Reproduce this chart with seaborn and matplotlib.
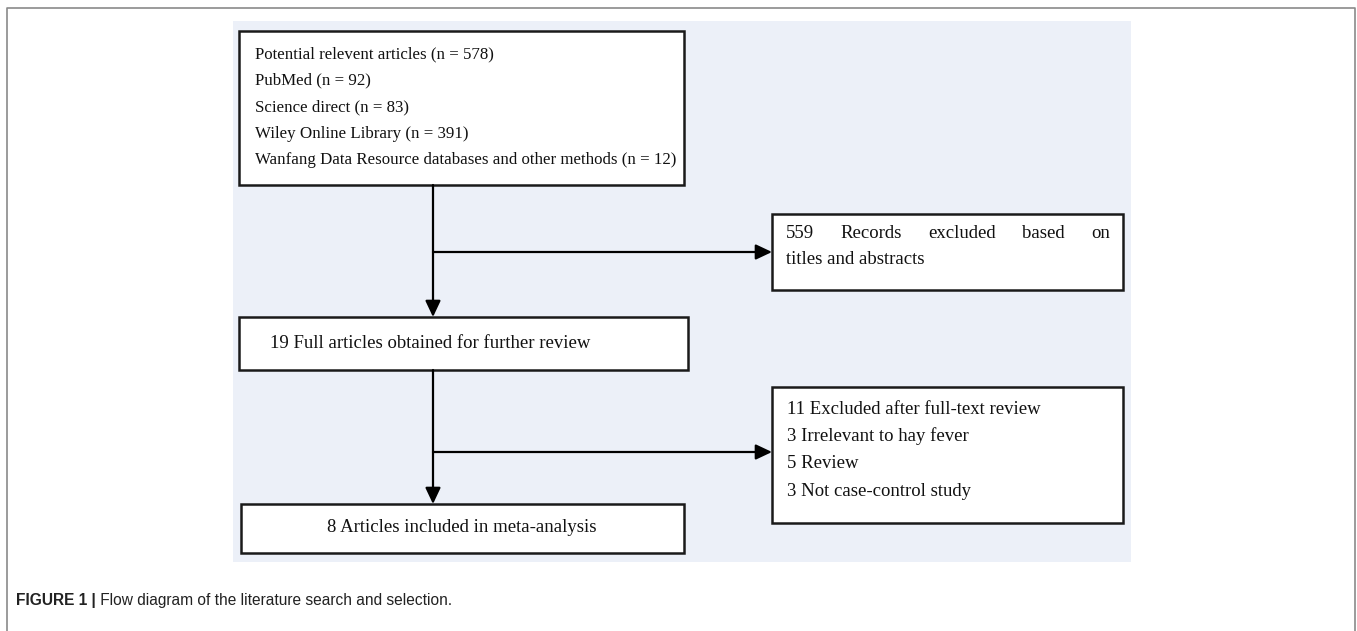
import matplotlib
matplotlib.use("Agg")
import matplotlib.pyplot as plt
import seaborn as sns
from matplotlib import font_manager
from matplotlib.patches import Rectangle

# texts of the flow diagram
source_lines = [
    "Potential relevent articles (n = 578)",
    "PubMed (n = 92)",
    "Science direct (n = 83)",
    "Wiley Online Library (n = 391)",
    "Wanfang Data Resource databases and other methods (n = 12)",
]
screen_excluded = ["559 Records excluded based on", "titles and abstracts"]
full_text = "19 Full articles obtained for further review"
full_excluded = [
    "11 Excluded after full-text review",
    "3 Irrelevant to hay fever",
    "5 Review",
    "3 Not case-control study",
]
included = "8 Articles included in meta-analysis"
caption_bold = "FIGURE 1 |"
caption_rest = " Flow diagram of the literature search and selection."

sns.set_theme(style="white")
names = {f.name for f in font_manager.fontManager.ttflist}
serif = "Liberation Serif"
sans = "Liberation Sans Narrow" if "Liberation Sans Narrow" in names else "Liberation Sans"

W, H = 1357, 631
fig = plt.figure(figsize=(W / 100, H / 100), dpi=100)
ax = fig.add_axes([0, 0, 1, 1])
ax.set_xlim(0, W)
ax.set_ylim(H, 0)
ax.axis("off")

# outer frame (bottom edge runs off the picture)
ax.plot([7, 7, 1355, 1355], [H + 5, 8, 8, H + 5], color="#8a8a8a", lw=1.2)

# light blue panel
ax.add_patch(Rectangle((233, 21), 1131 - 233, 562 - 21, facecolor="#ecf0f8", edgecolor="none"))


def box(x0, y0, x1, y1):
    ax.add_patch(Rectangle((x0, y0), x1 - x0, y1 - y0, facecolor="white",
                           edgecolor="#1a1a1a", lw=1.8, zorder=3))


tkw = dict(family=serif, fontsize=13.5, color="#111111", va="center", zorder=4)
tkw_small = dict(tkw, fontsize=12.2)

# box 1: sources
box(239, 31, 684, 185)
for i, line in enumerate(source_lines):
    ax.text(255, 54 + i * 26.5, line, ha="left", **tkw_small)

# box: records excluded (first line justified)
box(772, 214, 1123, 290)
words = screen_excluded[0].split()
tmp = [ax.text(0, 0, w, **tkw) for w in words]
fig.canvas.draw()
r = fig.canvas.get_renderer()
widths = [t.get_window_extent(r).width for t in tmp]
for t in tmp:
    t.remove()
left, right = 786, 1110
gap = (right - left - sum(widths)) / (len(words) - 1)
x = left
for w, wd in zip(words, widths):
    ax.text(x, 233, w, ha="left", **tkw)
    x += wd + gap
ax.text(left, 260, screen_excluded[1], ha="left", **tkw)

# box 2: full articles
box(239, 317, 688, 370)
ax.text(270, 343, full_text, ha="left", **tkw)

# box: full-text exclusions
box(772, 387, 1123, 523)
for i, line in enumerate(full_excluded):
    ax.text(787, 409 + i * 27.5, line, ha="left", **tkw)

# box 3: included
box(241, 504, 684, 553)
ax.text(462, 528, included, ha="center", **tkw)

# connectors
akw = dict(arrowstyle="-|>,head_length=0.7,head_width=0.33", color="black", lw=1.6,
           shrinkA=0, shrinkB=0, mutation_scale=14)
ax.annotate("", xy=(433, 317), xytext=(433, 185), arrowprops=akw, zorder=5)
ax.annotate("", xy=(772, 252), xytext=(433, 252), arrowprops=akw, zorder=5)
ax.annotate("", xy=(433, 504), xytext=(433, 370), arrowprops=akw, zorder=5)
ax.annotate("", xy=(772, 452), xytext=(433, 452), arrowprops=akw, zorder=5)

# caption
cap_fs = 11.2 if sans == "Liberation Sans" else 13
cap = ax.text(16, 601, caption_bold, family=sans, fontsize=cap_fs, fontweight="bold",
              color="#222222", va="center", ha="left")
fig.canvas.draw()
cw = cap.get_window_extent(fig.canvas.get_renderer()).width
ax.text(16 + cw, 601, caption_rest, family=sans, fontsize=cap_fs,
        color="#222222", va="center", ha="left")

fig.savefig("out.png", dpi=100)
